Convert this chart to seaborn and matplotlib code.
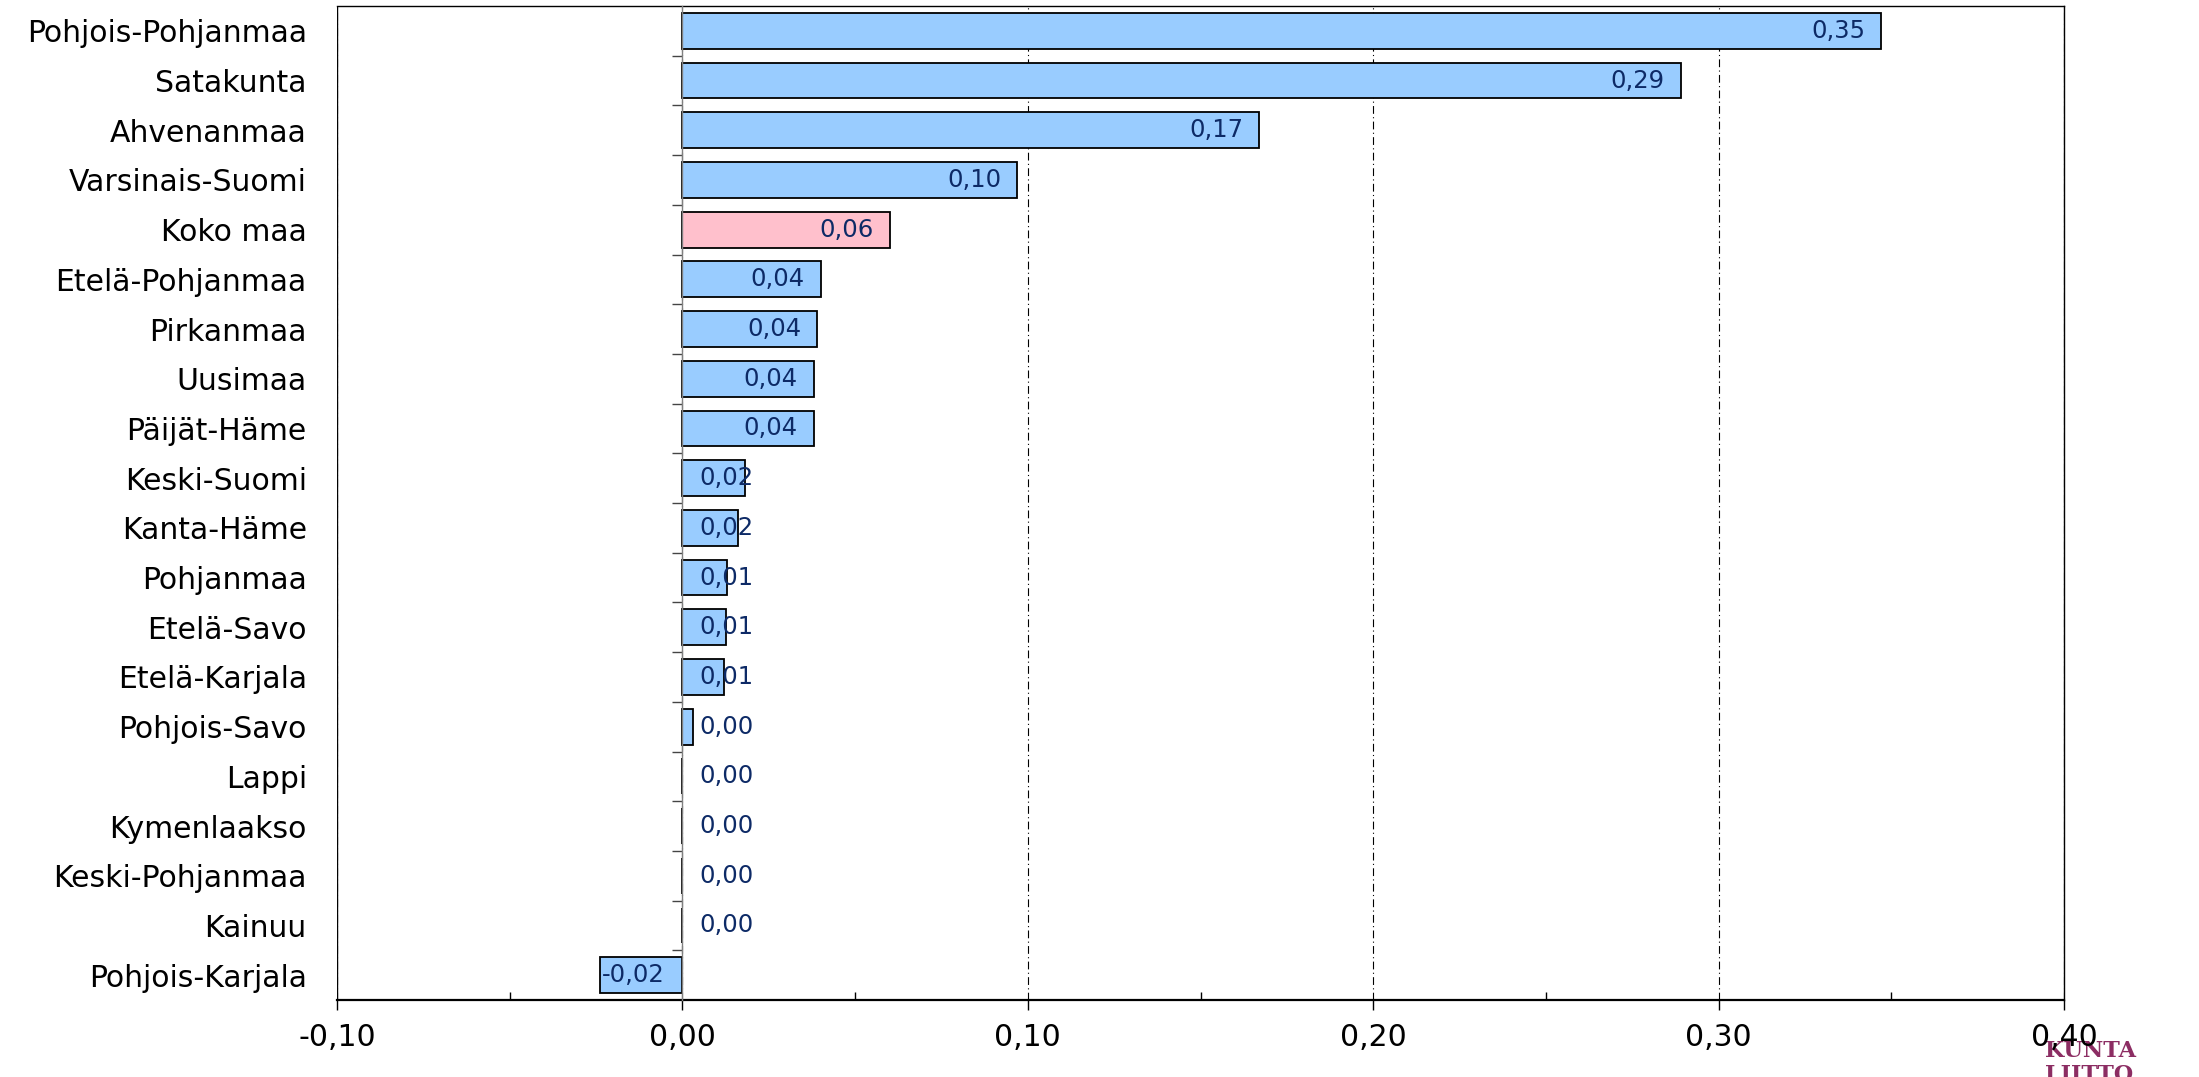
import numpy as np
import pandas as pd
import seaborn as sns
import matplotlib.pyplot as plt
from matplotlib.ticker import FuncFormatter, MultipleLocator, FixedLocator

# Values per region
regions = ['Pohjois-Pohjanmaa', 'Satakunta', 'Ahvenanmaa', 'Varsinais-Suomi', 'Koko maa',
           'Etelä-Pohjanmaa', 'Pirkanmaa', 'Uusimaa', 'Päijät-Häme', 'Keski-Suomi',
           'Kanta-Häme', 'Pohjanmaa', 'Etelä-Savo', 'Etelä-Karjala', 'Pohjois-Savo',
           'Lappi', 'Kymenlaakso', 'Keski-Pohjanmaa', 'Kainuu', 'Pohjois-Karjala']
values = [0.347, 0.289, 0.167, 0.097, 0.060,
          0.040, 0.039, 0.038, 0.038, 0.018,
          0.016, 0.013, 0.0125, 0.012, 0.003,
          0.0, 0.0, 0.0, 0.0, -0.024]
whole_country = 'Koko maa'

xticks = [-0.10, 0.00, 0.10, 0.20, 0.30, 0.40]

df = pd.DataFrame({'alue': regions, 'arvo': values})
colors = {r: ('#ffc0cc' if r == whole_country else '#99ccff') for r in regions}

sns.set_style('white')
plt.rcParams['font.family'] = ['DejaVu Sans']
plt.rcParams['text.color'] = 'black'
plt.rcParams['xtick.color'] = 'black'
plt.rcParams['ytick.color'] = 'black'

fig = plt.figure(figsize=(21.99, 10.77), dpi=100)
ax = fig.add_axes([0.1533, 0.0715, 0.9386 - 0.1533, 0.9944 - 0.0715])

sns.barplot(data=df, x='arvo', y='alue', hue='alue', palette=colors, legend=False,
            orient='h', width=0.72, saturation=1, edgecolor='black', linewidth=1.3,
            ax=ax, zorder=3)

ax.set_xlim(xticks[0], xticks[-1])
ax.set_ylim(len(regions) - 0.5, -0.5)
ax.set_xlabel('')
ax.set_ylabel('')

# x axis: comma decimals, major ticks out, minor ticks in
ax.xaxis.set_major_locator(FixedLocator(xticks))
ax.xaxis.set_minor_locator(MultipleLocator(0.05))
ax.xaxis.set_major_formatter(FuncFormatter(lambda v, p: f'{v:.2f}'.replace('.', ',')))
ax.tick_params(axis='x', which='both', bottom=True)
ax.tick_params(axis='x', which='major', direction='out', length=7.5, width=1,
               color='black', labelsize=21.5, labelcolor='black', pad=9)
ax.tick_params(axis='x', which='minor', direction='in', length=6, width=1, color='black')
ax.grid(axis='x', which='major', color='black', linewidth=0.8,
        linestyle=(0, (7, 3, 1, 3)), zorder=1)

# category axis sits at zero, ticks between categories
ax.spines['left'].set_position(('data', 0))
ax.spines['left'].set_color('#808080')
ax.spines['left'].set_linewidth(1)
ax.spines['left'].set_zorder(4)
ax.yaxis.set_minor_locator(FixedLocator(np.arange(0.5, len(regions) - 1, 1)))
ax.tick_params(axis='y', which='both', left=True)
ax.tick_params(axis='y', which='major', length=0, labelsize=21.5, labelcolor='black', pad=270.5)
ax.tick_params(axis='y', which='minor', direction='out', length=7, width=1, color='#444444')

# plot area border
ax.axvline(xticks[0], color='black', linewidth=1, zorder=5)
for s in ['top', 'right']:
    ax.spines[s].set_color('black')
    ax.spines[s].set_linewidth(1)
    ax.spines[s].set_visible(True)
ax.spines['bottom'].set_color('black')
ax.spines['bottom'].set_linewidth(1.6)

# data labels, Excel style "inside end"
px_per_unit = ax.get_position().width * fig.get_figwidth() * fig.dpi / (xticks[-1] - xticks[0])
for i, v in enumerate(values):
    txt = f'{v:.2f}'.replace('.', ',')
    if v < 0:
        ax.annotate(txt, (v, i), xytext=(1.5, 0), textcoords='offset points',
                    ha='left', va='center', fontsize=17.5, color='#0d2a66', zorder=6)
    elif v * px_per_unit > 90:
        ax.annotate(txt, (v, i), xytext=(-11.5, 0), textcoords='offset points',
                    ha='right', va='center', fontsize=17.5, color='#0d2a66', zorder=6)
    else:
        ax.annotate(txt, (0, i), xytext=(12.5, 0), textcoords='offset points',
                    ha='left', va='center', fontsize=17.5, color='#0d2a66', zorder=6)

# logo text
fig.text(0.9300, 0.0190, 'KUNTA', family='DejaVu Serif', fontweight='bold', fontsize=16,
         color='#8c2d63', ha='left', va='baseline', zorder=-1)
fig.text(0.9300, -0.0035, 'LIITTO', family='DejaVu Serif', fontweight='bold', fontsize=16,
         color='#8c2d63', ha='left', va='baseline', zorder=-1)

fig.savefig('out.png', dpi=100)
